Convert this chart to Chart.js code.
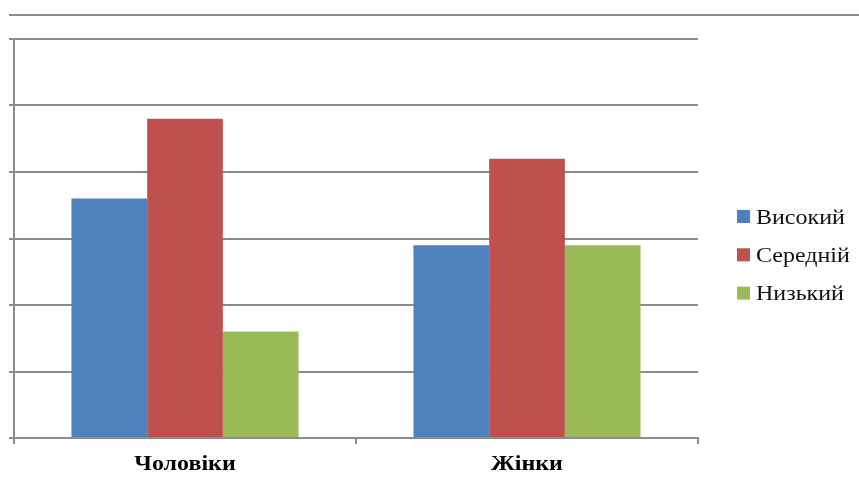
<!DOCTYPE html>
<html>
<head>
<meta charset="utf-8">
<title>Рівень</title>
<script src="https://cdn.jsdelivr.net/npm/chart.js@4.4.1/dist/chart.umd.min.js"></script>
<style>
  html, body { margin: 0; padding: 0; background: #fff; }
  canvas { display: block; }
</style>
</head>
<body>
<canvas id="chart" width="859" height="484"></canvas>
<script>
// Groups and series
const groups = ['Чоловіки', 'Жінки'];
const seriesNames = ['Високий', 'Середній', 'Низький'];
const high = [36, 29];
const middle = [48, 42];
const low = [16, 29];
const yTicks = [0, 10, 20, 30, 40, 50, 60];

const seriesColors = ['#4f81bd', '#c0504d', '#9bbb59'];
const lineGrey = '#8c8c8c';
const stretch = 1.2; // text in the picture is a little wide

// top rule, category labels and legend drawn by hand
const extras = {
    id: 'extras',
    afterDraw(chart) {
        const ctx = chart.ctx;
        const x = chart.scales.x;
        ctx.save();
        ctx.strokeStyle = lineGrey;
        ctx.lineWidth = 2;
        ctx.beginPath();
        ctx.moveTo(9, 15);
        ctx.lineTo(chart.width, 15);
        ctx.stroke();

        // category labels
        ctx.fillStyle = '#000';
        ctx.font = 'bold 20px "Liberation Serif"';
        ctx.textAlign = 'center';
        ctx.textBaseline = 'alphabetic';
        groups.forEach((g, i) => {
            ctx.save();
            ctx.translate(x.getPixelForValue(i), 470);
            ctx.scale(stretch, 1);
            ctx.fillText(g, 0, 0);
            ctx.restore();
        });

        // legend
        ctx.font = '20px "Liberation Serif"';
        ctx.textAlign = 'left';
        chart.data.datasets.forEach((ds, i) => {
            const top = 210 + i * 38.3;
            ctx.fillStyle = ds.backgroundColor;
            ctx.fillRect(737, top, 13, 13);
            ctx.fillStyle = '#111';
            ctx.save();
            ctx.translate(756, top + 13.5);
            ctx.scale(stretch, 1);
            ctx.fillText(ds.label, 0, 0);
            ctx.restore();
        });
        ctx.restore();
    }
};

const seriesData = [high, middle, low];

new Chart(document.getElementById('chart').getContext('2d'), {
    type: 'bar',
    data: {
        labels: groups,
        datasets: seriesNames.map((name, i) => ({
            label: name,
            data: seriesData[i],
            backgroundColor: seriesColors[i],
            borderWidth: 0,
            barPercentage: 1,
            categoryPercentage: 0.664
        }))
    },
    options: {
        responsive: false,
        animation: false,
        layout: {
            padding: { top: 39, left: 9, right: 161, bottom: 40 }
        },
        scales: {
            x: {
                grid: {
                    offset: true,
                    drawOnChartArea: false,
                    color: lineGrey,
                    lineWidth: 2,
                    tickLength: 6
                },
                border: { color: lineGrey, width: 2 },
                ticks: { display: false }
            },
            y: {
                min: 0,
                max: 60,
                afterBuildTicks: s => { s.ticks = yTicks.map(v => ({ value: v })); },
                grid: {
                    color: lineGrey,
                    lineWidth: 2,
                    tickLength: 5
                },
                border: { color: lineGrey, width: 2 },
                ticks: { display: false }
            }
        },
        plugins: {
            legend: { display: false },
            tooltip: { enabled: false }
        }
    },
    plugins: [extras]
});
</script>
</body>
</html>
